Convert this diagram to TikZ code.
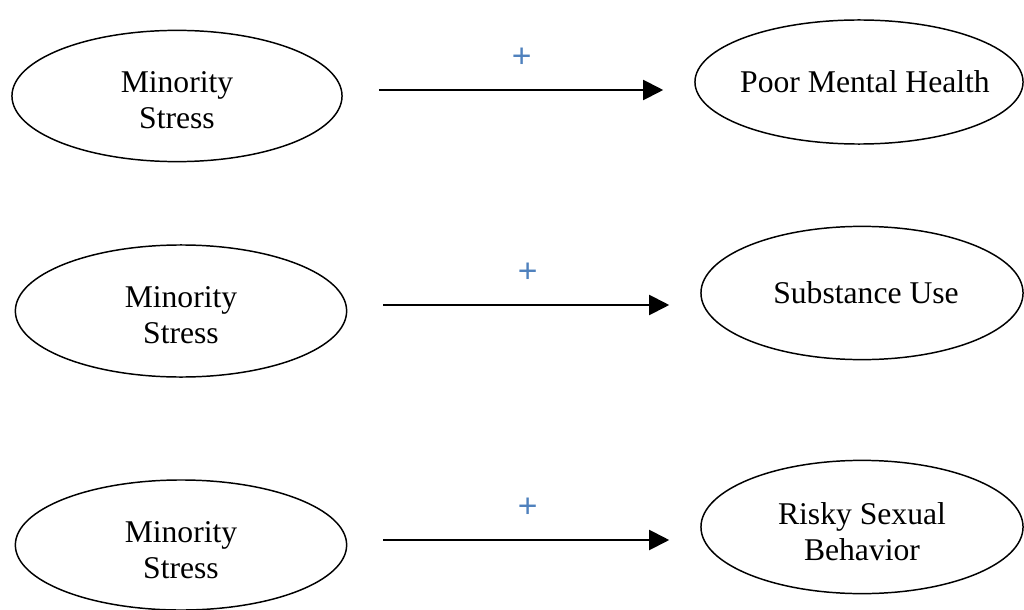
\documentclass[tikz,border=0pt]{standalone}
\usepackage{fontspec}
\setmainfont{Liberation Serif}
\setsansfont{Liberation Sans}
\usepackage{tikz}
\usetikzlibrary{shapes.geometric, arrows.meta}
\definecolor{plusblue}{HTML}{4F81BD}
\tikzset{var/.style={draw,ellipse,inner sep=0pt,line width=1.05pt}}
\tikzset{vartext/.style={align=center,font=\fontsize{22.5}{25.6}\selectfont}}
\tikzset{effect/.style={line width=1.4pt,-{Triangle[length=0.5cm,width=0.5cm]},shorten <=0.9cm,shorten >=0.775cm}}
\tikzset{sign/.style={text=plusblue,font=\sffamily\fontsize{24}{28}\selectfont,inner sep=0pt}}

\begin{document}
\begin{tikzpicture}[x=0.025cm,y=-0.025cm]
    \useasboundingbox (0,0) rectangle (1024,610);

    % Ellipses:
    % left column is the cause, right column the outcomes
    \node [var,minimum width=8.25cm,minimum height=3.28cm] (ms1) at (177,96) {};
    \node [var,minimum width=8.2cm,minimum height=3.1cm] (pmh) at (859,82) {};

    \node [var,minimum width=8.28cm,minimum height=3.3cm] (ms2) at (181,311) {};
    \node [var,minimum width=8.05cm,minimum height=3.33cm] (su) at (862,293) {};

    \node [var,minimum width=8.28cm,minimum height=3.25cm] (ms3) at (181,545) {};
    \node [var,minimum width=8.05cm,minimum height=3.33cm] (rsb) at (862,527) {};

    % Texts of the ellipses
    \node [vartext,yshift=-0.1cm] (ms1text) at (ms1) {Minority\\Stress};
    \node [vartext,xshift=0.15cm] (pmhtext) at (pmh) {Poor Mental Health};

    \node [vartext,yshift=-0.1cm] (ms2text) at (ms2) {Minority\\Stress};
    \node [vartext,xshift=0.1cm] (sutext) at (su) {Substance Use};

    \node [vartext,yshift=-0.12cm] (ms3text) at (ms3) {Minority\\Stress};
    \node [vartext,yshift=-0.12cm] (rsbtext) at (rsb) {Risky Sexual\\Behavior};

    % Arrows with the sign of the effect
    \draw [effect] (ms1.east |- 0,90) -- (pmh.west |- 0,90)
        node [sign,midway,xshift=0.08cm,yshift=0.8cm] (s1) {+};
    \draw [effect] (ms2.east |- 0,305) -- (su.west |- 0,305)
        node [sign,midway,xshift=0.1cm,yshift=0.8cm] (s2) {+};
    \draw [effect] (ms3.east |- 0,540) -- (rsb.west |- 0,540)
        node [sign,midway,xshift=0.1cm,yshift=0.8cm] (s3) {+};

\end{tikzpicture}
\end{document}
